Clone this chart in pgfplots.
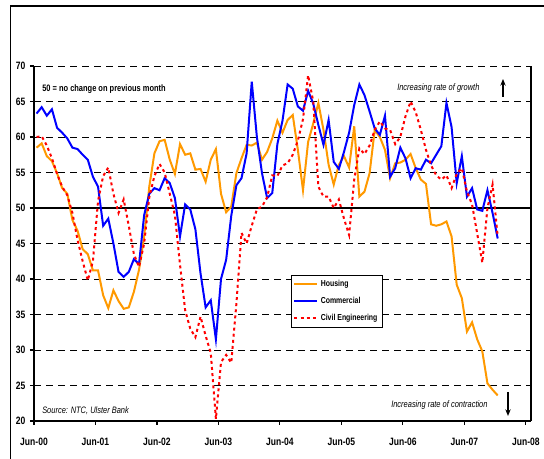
\documentclass[border=0pt]{standalone}
\usepackage{fontspec}
\setmainfont{Liberation Sans}[FakeStretch=0.8]
\usepackage{pgfplots}
\usepackage{pgfplotstable}
\pgfplotsset{compat=1.18}
\usetikzlibrary{arrows.meta}
\definecolor{housing}{HTML}{FF9900}
\definecolor{commercial}{HTML}{0000FF}
\definecolor{civil}{HTML}{FF0000}

\pgfplotstableread{
x h c e
0.5 58.5 63.3 60.0
1.5 59.1 64.2 60.1
2.5 57.3 63.0 58.8
3.5 56.6 63.9 57.0
4.5 54.9 61.3 54.8
5.5 52.8 60.6 53.0
6.5 52.0 59.8 51.8
7.5 48.3 58.5 49.3
8.5 46.8 58.3 45.5
9.5 44.2 57.5 42.5
10.5 43.5 56.8 39.8
11.5 41.2 54.4 42.5
12.5 41.2 53.0 51.0
13.5 37.7 47.5 54.5
14.5 35.9 48.5 55.7
15.5 38.4 45.0 52.0
16.5 36.9 41.0 49.3
17.5 35.8 40.3 51.2
18.5 36.0 41.0 47.5
19.5 38.2 42.8 43.5
20.5 41.3 42.1 41.7
21.5 46.0 49.0 45.0
22.5 53.0 52.0 51.5
23.5 57.7 52.8 54.5
24.5 59.4 52.5 56.2
25.5 59.6 54.2 55.0
26.5 56.8 53.5 52.0
27.5 54.8 51.4 49.0
28.5 59.0 46.0 42.0
29.5 57.5 50.5 35.6
30.5 57.7 49.8 33.0
31.5 55.4 47.0 31.8
32.5 55.5 40.8 34.7
33.5 53.7 36.0 32.0
34.5 56.8 37.0 29.6
35.5 58.3 31.5 20.3
36.5 52.0 40.0 28.3
37.5 49.4 42.7 29.3
38.5 50.2 48.9 28.2
39.5 54.9 53.2 36.5
40.5 57.0 54.2 46.5
41.5 58.9 57.7 45.0
42.5 58.8 67.8 47.5
43.5 59.2 60.0 49.8
44.5 56.8 54.9 50.2
45.5 57.9 51.4 51.5
46.5 59.8 52.1 54.6
47.5 62.3 59.0 54.5
48.5 60.6 62.3 56.0
49.5 62.4 67.4 56.3
50.5 63.1 66.8 57.5
51.5 58.2 64.3 59.5
52.5 52.5 63.7 62.5
53.5 59.3 66.5 68.7
54.5 61.9 64.7 65.0
55.5 64.8 61.7 53.0
56.5 61.0 58.9 51.6
57.5 56.1 62.4 51.6
58.5 53.3 56.5 50.0
59.5 56.1 55.5 51.2
60.5 57.3 57.9 48.5
61.5 55.7 60.6 46.2
62.5 61.5 64.5 54.0
63.5 51.6 67.4 58.4
64.5 52.3 65.9 57.6
65.5 54.9 63.6 58.8
66.5 61.0 61.2 61.0
67.5 60.0 60.3 62.2
68.5 58.2 63.0 61.2
69.5 54.2 54.4 61.0
70.5 56.3 55.6 59.0
71.5 56.4 58.5 60.0
72.5 56.8 57.0 62.9
73.5 57.6 54.2 65.0
74.5 55.6 55.6 63.5
75.5 54.0 55.4 61.0
76.5 53.4 56.8 58.2
77.5 47.7 56.3 56.0
78.5 47.5 57.5 54.6
79.5 47.7 58.7 54.0
80.5 48.1 64.8 54.6
81.5 46.0 61.4 52.8
82.5 39.2 53.5 54.8
83.5 37.3 57.3 55.6
84.5 32.6 51.6 52.3
85.5 33.9 52.8 50.5
86.5 31.5 49.8 46.4
87.5 29.8 49.6 42.3
88.5 25.3 52.5 50.0
89.5 24.4 49.3 53.3
90.5 23.6 45.7 46.0
}\chartdata

\begin{document}
\begin{tikzpicture}
\draw[line width=0.8pt] (7.9pt,0pt) -- (7.9pt,339.75pt) -- (408pt,339.75pt);
\begin{axis}[
  at={(25.5pt,28.5pt)}, anchor=south west,
  scale only axis, width=372.75pt, height=266.25pt,
  xmin=0, xmax=97, ymin=20, ymax=70,
  axis lines*=left,
  axis line style={-, line width=1.1pt},
  xtick={0,12,24,36,48,60,72,84,96},
  xticklabels={Jun-00,Jun-01,Jun-02,Jun-03,Jun-04,Jun-05,Jun-06,Jun-07,Jun-08},
  ytick={20,25,30,35,40,45,50,55,60,65,70},
  yticklabels={20,25,30,35,40,45,50,55,60,65,70},
  tick align=outside,
  tick style={black, line width=0.8pt},
  major tick length=3pt,
  ymajorgrids,
  major grid style={black, line width=0.7pt, dash pattern=on 5.5pt off 3.5pt},
  extra y ticks={50}, extra y tick labels={},
  extra y tick style={major grid style={black, solid, line width=1.3pt}},
  ticklabel style={font=\fontsize{8}{9}\selectfont\bfseries},
  xticklabel style={yshift=-6pt},
  legend style={at={(0.517,0.411)}, anchor=north west, draw=black, line width=0.8pt,
    font=\fontsize{6.5}{7.5}\selectfont\bfseries, inner sep=1.5pt, row sep=2.5pt,
    cells={anchor=west}},
  legend image code/.code={\draw[#1] (0pt,0pt) -- (17pt,0pt);},
  clip=false,
]
\addplot[housing, line width=1.5pt] table[x=x, y=h] {\chartdata};
\addlegendentry{Housing}
\addplot[commercial, line width=1.5pt] table[x=x, y=c] {\chartdata};
\addlegendentry{Commercial}
\addplot[civil, line width=1.5pt, dash pattern=on 2.2pt off 2.4pt] table[x=x, y=e] {\chartdata};
\addlegendentry{Civil Engineering}
\draw[black, line width=1.1pt] (rel axis cs:1,0) -- (rel axis cs:1,1);
\end{axis}
\node[anchor=west, inner sep=0pt, font=\fontsize{7}{8}\selectfont\bfseries] at (31.5pt,277.5pt) {50 = no change on previous month};
\node[anchor=west, inner sep=0pt, font=\fontsize{7}{8}\selectfont\itshape] at (297.75pt,278.25pt) {Increasing rate of growth};
\draw[-{Stealth[length=5pt,width=4pt]}, line width=0.9pt] (377.25pt,271.5pt) -- (377.25pt,285pt);
\node[anchor=west, inner sep=0pt, font=\fontsize{7}{8}\selectfont\itshape] at (293.25pt,40.5pt) {Increasing rate of contraction};
\draw[-{Stealth[length=5pt,width=4pt]}, line width=0.9pt] (381pt,50.25pt) -- (381pt,32.25pt);
\node[anchor=west, inner sep=0pt, font=\fontsize{7}{8}\selectfont\itshape] at (31.5pt,36pt) {Source: NTC, Ulster Bank};
\pgfresetboundingbox
\useasboundingbox (0pt,0pt) rectangle (408pt,344.25pt);
\end{tikzpicture}
\end{document}
